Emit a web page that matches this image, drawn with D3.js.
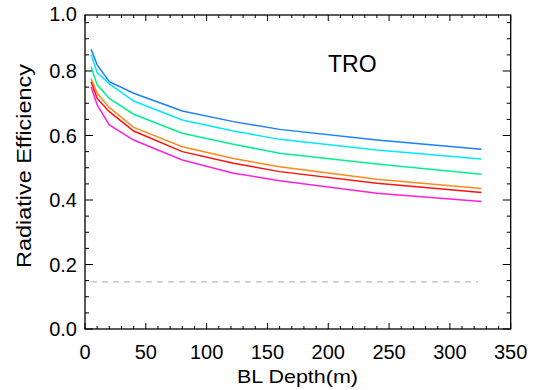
<!DOCTYPE html>
<html>
<head>
<meta charset="utf-8">
<script src="https://cdn.jsdelivr.net/npm/d3@7"></script>
<style>
  body { margin: 0; background: #fff; }
  text { font-family: "Liberation Sans", Arial, sans-serif; fill: #000; }
</style>
</head>
<body>
<div id="chart"></div>
<script>
// BL depth (m) at which each curve is sampled
const depths = [5, 10, 20, 40, 80, 122, 160, 240, 326];

// radiative efficiency, one curve per colour (top to bottom)
const blueVals    = [0.867, 0.819, 0.767, 0.731, 0.676, 0.643, 0.619, 0.586, 0.557];
const cyanVals    = [0.850, 0.795, 0.760, 0.707, 0.648, 0.614, 0.588, 0.555, 0.527];
const greenVals   = [0.813, 0.757, 0.715, 0.666, 0.607, 0.573, 0.545, 0.512, 0.480];
const orangeVals  = [0.777, 0.731, 0.687, 0.625, 0.565, 0.529, 0.503, 0.464, 0.436];
const redVals     = [0.767, 0.715, 0.674, 0.614, 0.550, 0.514, 0.488, 0.452, 0.423];
const magentaVals = [0.751, 0.695, 0.633, 0.586, 0.524, 0.483, 0.460, 0.421, 0.395];

const seriesColors = ["#1a80ff", "#00e8ff", "#00f08c", "#ff8a1a", "#ff1010", "#ff20d8"];
const seriesList = [blueVals, cyanVals, greenVals, orangeVals, redVals, magentaVals];

// reference level (dashed grey)
const refLevel = 0.146;
const refDepths = [5, 323];

const xTicks = [0, 50, 100, 150, 200, 250, 300, 350];
const yTicks = [0.0, 0.2, 0.4, 0.6, 0.8];
const topLabel = "1.0";

const W = 539, H = 390;
const pLeft = 85, pRight = 510.7, pTop = 15, pBottom = 329;

const svg = d3.select("#chart").append("svg")
    .attr("width", W)
    .attr("height", H);

const x = d3.scaleLinear().domain([0, 350]).range([pLeft, pRight]);
const y = d3.scaleLinear().domain([0, 1]).range([pBottom, pBottom - 322.5]);

// frame
svg.append("rect")
    .attr("x", pLeft).attr("y", pTop)
    .attr("width", pRight - pLeft).attr("height", pBottom - pTop)
    .attr("fill", "none")
    .attr("stroke", "#000")
    .attr("stroke-width", 1.3);

// x ticks, bottom and top
const xMinor = d3.range(0, 351, 10);
xMinor.forEach(v => {
    const len = v % 50 === 0 ? 6 : 3;
    svg.append("line").attr("x1", x(v)).attr("x2", x(v))
        .attr("y1", pBottom).attr("y2", pBottom - len)
        .attr("stroke", "#000");
    svg.append("line").attr("x1", x(v)).attr("x2", x(v))
        .attr("y1", pTop).attr("y2", pTop + len)
        .attr("stroke", "#000");
});

// y ticks, left and right
const yMinor = d3.range(0, 20).map(i => i * 0.05).filter(v => y(v) > pTop + 1);
yMinor.forEach((v, i) => {
    const len = i % 4 === 0 ? 8 : 4;
    svg.append("line").attr("x1", pLeft).attr("x2", pLeft + len)
        .attr("y1", y(v)).attr("y2", y(v))
        .attr("stroke", "#000");
    svg.append("line").attr("x1", pRight).attr("x2", pRight - len)
        .attr("y1", y(v)).attr("y2", y(v))
        .attr("stroke", "#000");
});

// tick labels
svg.selectAll(".xl").data(xTicks).enter().append("text")
    .attr("x", d => x(d))
    .attr("y", 359)
    .attr("text-anchor", "middle")
    .attr("font-size", 20)
    .text(d => d);

svg.selectAll(".yl").data(yTicks).enter().append("text")
    .attr("x", 77)
    .attr("y", d => y(d) + 7)
    .attr("text-anchor", "end")
    .attr("font-size", 20)
    .text(d => d.toFixed(1));

svg.append("text")
    .attr("x", 77).attr("y", pTop + 6)
    .attr("text-anchor", "end")
    .attr("font-size", 20)
    .text(topLabel);

// axis titles
svg.append("text")
    .attr("x", 237).attr("y", 383)
    .attr("font-size", 19)
    .attr("textLength", 121)
    .attr("lengthAdjust", "spacingAndGlyphs")
    .text("BL Depth(m)");

svg.append("text")
    .attr("transform", "translate(31,268) rotate(-90)")
    .attr("font-size", 21)
    .attr("textLength", 204)
    .attr("lengthAdjust", "spacingAndGlyphs")
    .text("Radiative Efficiency");

// dashed reference line
svg.append("line")
    .attr("x1", x(refDepths[0])).attr("x2", x(refDepths[1]))
    .attr("y1", y(refLevel)).attr("y2", y(refLevel))
    .attr("stroke", "#bbb")
    .attr("stroke-width", 1.2)
    .attr("stroke-dasharray", "6,5");

const line = d3.line()
    .x((d, i) => x(depths[i]))
    .y(d => y(d));

seriesList.forEach((vals, k) => {
    svg.append("path")
        .datum(vals)
        .attr("d", line)
        .attr("fill", "none")
        .attr("stroke", seriesColors[k])
        .attr("stroke-width", 1.5);
});

svg.append("text")
    .attr("x", 328).attr("y", 72)
    .attr("font-size", 23)
    .text("TRO");
</script>
</body>
</html>
